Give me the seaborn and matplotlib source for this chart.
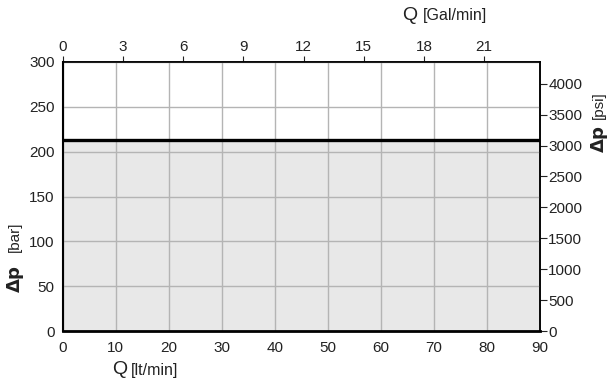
import numpy as np
import seaborn as sns
import matplotlib.pyplot as plt

# pressure drop curve
q_lt = [0, 38, 90]
dp_bar = [213.5, 212.5, 212.5]

x_ticks = [0, 10, 20, 30, 40, 50, 60, 70, 80, 90]
y_ticks = [0, 50, 100, 150, 200, 250, 300]
gal_ticks = [0, 3, 6, 9, 12, 15, 18, 21]
psi_ticks = [0, 500, 1000, 1500, 2000, 2500, 3000, 3500, 4000]

LT_PER_GAL = 3.785
PSI_PER_BAR = 14.5038

sns.set_theme(style='white')
plt.rcParams['font.family'] = ['Liberation Sans', 'DejaVu Sans']

fig = plt.figure(figsize=(6.1, 3.85), dpi=100)
ax = fig.add_axes([0.103, 0.140, 0.782, 0.699])

ax.fill_between(q_lt, dp_bar, 0, step='post', color='#e8e8e8', lw=0, zorder=0)
sns.lineplot(x=q_lt, y=dp_bar, ax=ax, color='black', lw=2.4, drawstyle='steps-post', zorder=3)

ax.set_xlim(0, 90)
ax.set_ylim(0, 300)
ax.set_xticks(x_ticks)
ax.set_yticks(y_ticks)
ax.grid(True, color='#b4b4b4', lw=1)
for l in ax.get_xgridlines() + ax.get_ygridlines():
    l.set_zorder(1)
ax.tick_params(axis='x', length=0, labelsize=11, colors='#222222', pad=7)
ax.tick_params(axis='y', length=0, labelsize=11, colors='#222222', pad=6)
for s in ax.spines.values():
    s.set_color('black')
    s.set_linewidth(1.2)
ax.spines['bottom'].set_linewidth(2)
ax.spines['left'].set_linewidth(1.5)
ax.set_xlabel('')
ax.set_ylabel('')

top = ax.secondary_xaxis('top', functions=(lambda x: x / LT_PER_GAL, lambda g: g * LT_PER_GAL))
top.set_xticks(gal_ticks)
top.tick_params(length=4, width=0.8, labelsize=11, colors='#222222', pad=2)

right = ax.secondary_yaxis('right', functions=(lambda b: b * PSI_PER_BAR, lambda p: p / PSI_PER_BAR))
right.set_yticks(psi_ticks)
right.tick_params(length=5, width=0.8, labelsize=11, colors='#222222', pad=1)

# axis titles
fig.text(0.660, 0.961, 'Q', fontsize=14, color='#222222', va='center')
fig.text(0.693, 0.959, '[Gal/min]', fontsize=11.5, color='#222222', va='center')
fig.text(0.183, 0.039, 'Q', fontsize=14, color='#222222', va='center')
fig.text(0.215, 0.037, '[lt/min]', fontsize=11.5, color='#222222', va='center')
fig.text(0.025, 0.275, r'$\mathbf{\Delta p}$', fontsize=13, color='#222222',
         rotation=90, ha='center', va='center')
fig.text(0.024, 0.385, '[bar]', fontsize=11, color='#222222', rotation=90, ha='center', va='center')
fig.text(0.982, 0.64, r'$\mathbf{\Delta p}$', fontsize=13, color='#222222',
         rotation=90, ha='center', va='center')
fig.text(0.981, 0.728, '[psi]', fontsize=11, color='#222222', rotation=90, ha='center', va='center')

fig.savefig('out.png', dpi=100)
